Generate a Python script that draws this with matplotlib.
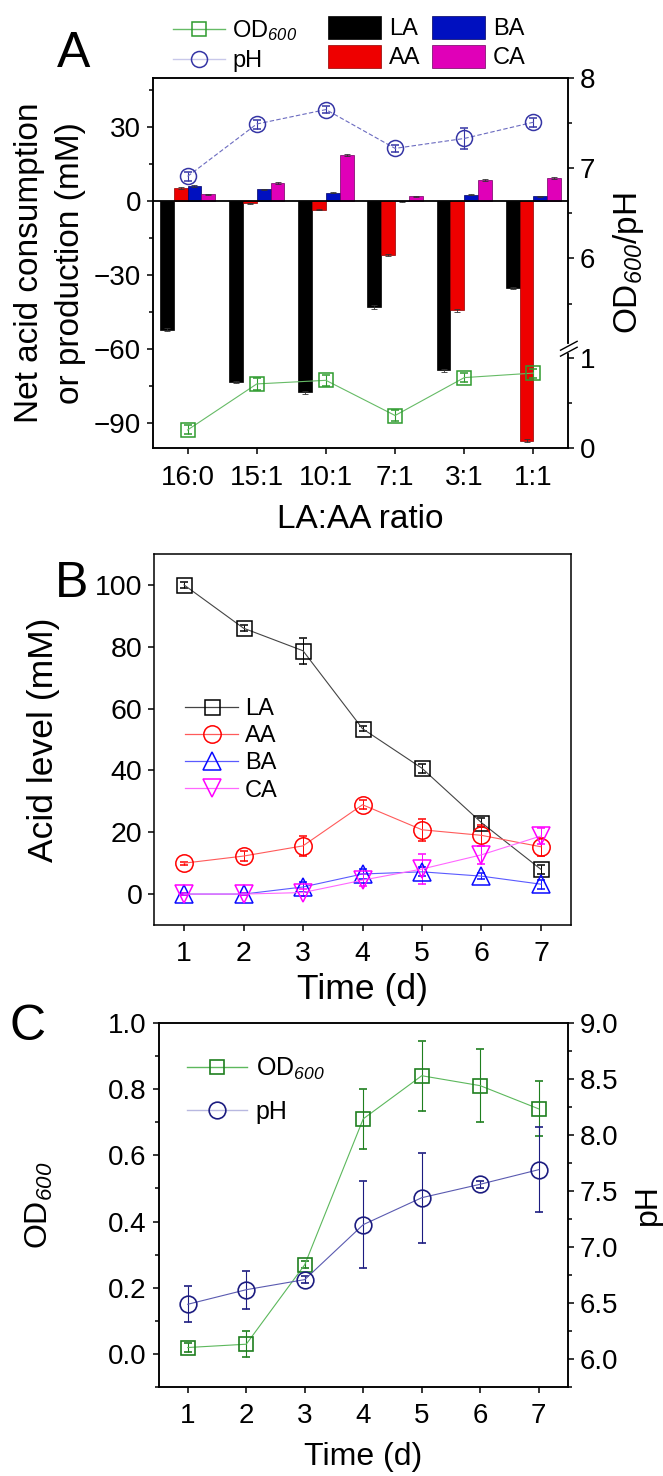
import numpy as np
import matplotlib
matplotlib.use('Agg')
import matplotlib.pyplot as plt
from matplotlib.ticker import MultipleLocator, FixedLocator, FormatStrFormatter, NullFormatter
from matplotlib.patches import Patch
from matplotlib.lines import Line2D

plt.rcParams['font.family'] = ['Liberation Sans', 'DejaVu Sans']
plt.rcParams['mathtext.fontset'] = 'custom'
# math parts are only the italic "600" subscripts
plt.rcParams['mathtext.rm'] = 'Liberation Sans:italic'
plt.rcParams['mathtext.it'] = 'Liberation Sans:italic'
plt.rcParams['axes.linewidth'] = 1.1

# ---------------- Data: panel A ----------------
ratios = ['16:0', '15:1', '10:1', '7:1', '3:1', '1:1']
la_net = [-52.0, -73.3, -77.5, -43.0, -68.4, -35.3]
aa_net = [5.4, -0.8, -3.4, -21.6, -44.2, -97.0]
ba_net = [6.3, 4.8, 3.5, 0.0, 2.7, 2.0]
ca_net = [2.8, 7.5, 18.7, 2.0, 8.7, 9.5]
la_net_err = [0.6, 0.5, 0.5, 0.8, 0.6, 0.4]
aa_net_err = [0.5, 0.3, 0.3, 0.4, 0.5, 0.5]
ba_net_err = [0.5, 0.3, 0.3, 0.2, 0.3, 0.2]
ca_net_err = [0.3, 0.3, 0.3, 0.2, 0.3, 0.3]
od_a = [0.20, 0.71, 0.75, 0.36, 0.78, 0.83]
od_a_err = [0.05, 0.07, 0.06, 0.06, 0.05, 0.05]
ph_a = [6.91, 7.49, 7.65, 7.22, 7.33, 7.51]
ph_a_err = [0.05, 0.05, 0.04, 0.04, 0.12, 0.05]

# ---------------- Data: panel B ----------------
days = [1, 2, 3, 4, 5, 6, 7]
la_b = [100.0, 86.0, 78.7, 53.5, 40.7, 23.1, 8.0]
la_b_err = [1.0, 1.0, 4.2, 0.8, 1.5, 1.5, 1.5]
aa_b = [10.0, 12.3, 15.6, 28.9, 20.8, 19.0, 15.3]
aa_b_err = [0.5, 1.5, 3.3, 1.5, 3.5, 3.5, 3.0]
ba_b = [0.0, 0.0, 2.3, 6.5, 7.2, 5.8, 3.2]
ba_b_err = [0.3, 0.3, 1.5, 1.5, 1.5, 1.0, 1.5]
ca_b = [0.0, 0.0, 0.5, 4.5, 8.1, 12.7, 18.8]
ca_b_err = [0.3, 0.3, 1.0, 2.0, 4.8, 3.0, 2.5]

# ---------------- Data: panel C ----------------
od_c = [0.02, 0.03, 0.27, 0.71, 0.84, 0.81, 0.74]
od_c_err = [0.015, 0.04, 0.01, 0.09, 0.105, 0.11, 0.083]
ph_c = [6.49, 6.62, 6.71, 7.20, 7.44, 7.56, 7.69]
ph_c_err = [0.16, 0.17, 0.03, 0.39, 0.40, 0.03, 0.38]

W, H = 663, 1476
fig = plt.figure(figsize=(W / 100, H / 100), dpi=100)


def fx(px):
    return px / W


def fy(py):
    return 1 - py / H


def rect(l, t, r, b):
    return [l / W, 1 - b / H, (r - l) / W, (b - t) / H]


def style_ticks(ax, size):
    ax.tick_params(which='both', direction='out', width=1.1, labelsize=size)
    ax.tick_params(which='major', length=4.5, pad=4)
    ax.tick_params(which='minor', length=2.8)


OD_LABEL = r'OD$_{600}$'
TICK = 20

# ======================= Panel A =======================
axA = fig.add_axes(rect(153, 78, 568, 448))
x = np.arange(len(ratios))
w = 0.2
bar_series = [
    (la_net, la_net_err, '#000000', '#000000', 'LA'),
    (aa_net, aa_net_err, '#ee0000', '#900000', 'AA'),
    (ba_net, ba_net_err, '#0010c0', '#000060', 'BA'),
    (ca_net, ca_net_err, '#e000b8', '#700060', 'CA'),
]
bar_handles = []
for i, (vals, err, fc, ec, name) in enumerate(bar_series):
    axA.bar(x + (i - 1.5) * w, vals, w, yerr=err, color=fc, edgecolor=ec,
            linewidth=0.5, error_kw=dict(ecolor='#333333', elinewidth=0.6,
                                         capsize=2, capthick=0.6), zorder=2)
    bar_handles.append(Patch(facecolor=fc, edgecolor=ec, linewidth=0.5, label=name))
axA.axhline(0, color='k', lw=1.3, zorder=3)
axA.set_xlim(-0.5, 5.5)
axA.set_ylim(-100, 50)
axA.set_xticks(x)
axA.set_xticklabels(ratios)
axA.yaxis.set_major_locator(MultipleLocator(30))
axA.yaxis.set_minor_locator(MultipleLocator(15))
style_ticks(axA, TICK)
axA.tick_params(axis='x', pad=8)
axA.set_ylabel('Net acid consumption\nor production (mM)', fontsize=24,
               va='center', linespacing=1.4)
axA.yaxis.set_label_coords(-0.248, 0.5)
axA.set_xlabel('LA:AA ratio', fontsize=24, va='center')
axA.xaxis.set_label_coords(0.5, -0.192)


def fwd(v):
    v = np.asarray(v, dtype=float)
    return np.where(v <= 1.1, v, np.where(v >= 5.0, v - 3.9, 1.1))


def inv(d):
    d = np.asarray(d, dtype=float)
    return np.where(d <= 1.1, d, d + 3.9)


axA2 = axA.twinx()
axA2.set_yscale('function', functions=(fwd, inv))
axA2.set_ylim(0, 8)
axA2.yaxis.set_major_locator(FixedLocator([0, 1, 6, 7, 8]))
axA2.yaxis.set_minor_locator(FixedLocator([0.5, 5.5, 6.5, 7.5]))
axA2.yaxis.set_major_formatter(FormatStrFormatter('%g'))
axA2.yaxis.set_minor_formatter(NullFormatter())
style_ticks(axA2, TICK)
axA2.set_ylabel(OD_LABEL + '/pH', fontsize=24, va='center', rotation=90)
axA2.yaxis.set_label_coords(1.145, 0.5)

od_col_a, od_line_a = '#2e9b2e', '#66bb66'
ph_col_a, ph_line_a = '#3535a5', '#6b6bc0'
axA2.errorbar(x, od_a, yerr=od_a_err, fmt='-s', color=od_line_a, mec=od_col_a,
              mfc='none', ms=10.5, mew=1.1, lw=0.8, ecolor=od_col_a,
              elinewidth=0.8, capsize=3, capthick=0.8, zorder=4)
axA2.errorbar(x, ph_a, yerr=ph_a_err, fmt='-o', color=ph_line_a, mec=ph_col_a,
              mfc='none', ms=11.5, mew=1.1, lw=0.8, ls=(0, (4, 2)), ecolor=ph_col_a,
              elinewidth=0.8, capsize=3, capthick=0.8, zorder=4)

# axis break marks on the right axis
yb = float(fwd(1.13) / fwd(8.0))
axA2.plot([1.0, 1.0], [yb - 0.007, yb + 0.007], transform=axA2.transAxes,
          color='white', lw=3, clip_on=False, zorder=10)
for off in (-0.008, 0.008):
    axA2.plot([0.982, 1.022], [yb - 0.012 + off, yb + 0.012 + off],
              transform=axA2.transAxes, color='k', lw=1.0, clip_on=False, zorder=11)

line_handles_a = [
    Line2D([], [], color=od_line_a, marker='s', mec=od_col_a, mfc='none', ms=10.5, mew=1.1, lw=1.0),
    Line2D([], [], color='#c8c8ea', marker='o', mec=ph_col_a, mfc='none', ms=11.5, mew=1.1, lw=1.0),
]
fig.legend(line_handles_a, [OD_LABEL, 'pH'], loc='upper left',
           bbox_to_anchor=(fx(173), fy(18)), frameon=False, fontsize=17,
           handlelength=2.2, handletextpad=0.3, labelspacing=0.3,
           borderpad=0, borderaxespad=0)
fig.legend(bar_handles, [h.get_label() for h in bar_handles], ncol=2,
           loc='upper left', bbox_to_anchor=(fx(328), fy(16)), frameon=False,
           fontsize=17, handlelength=2.25, handleheight=1.1, handletextpad=0.32,
           columnspacing=0.5, labelspacing=0.2, borderpad=0, borderaxespad=0)

fig.text(fx(57), fy(67), 'A', fontsize=36, ha='left', va='baseline')

# ======================= Panel B =======================
axB = fig.add_axes(rect(154.3, 554, 570.7, 925))
b_series = [
    (la_b, la_b_err, 's', '#000000', '#444444', 10.8, 'LA'),
    (aa_b, aa_b_err, 'o', '#ff0000', '#ff5a5a', 12.5, 'AA'),
    (ba_b, ba_b_err, '^', '#0a0aff', '#5a5aff', 12.5, 'BA'),
    (ca_b, ca_b_err, 'v', '#ff00ff', '#ff66ff', 12.5, 'CA'),
]
b_handles = []
for vals, err, mk, mc, lc, ms, name in b_series:
    axB.errorbar(days, vals, yerr=err, fmt='-' + mk, color=lc, mec=mc, mfc='none',
                 ms=ms, mew=1.1, lw=0.8, ecolor=mc, elinewidth=0.7, capsize=3,
                 capthick=0.7)
    b_handles.append(Line2D([], [], color=lc, marker=mk, mec=mc, mfc='none',
                            ms=ms, mew=1.1, lw=0.9, label=name))
axB.set_xlim(0.5, 7.5)
axB.set_ylim(-10, 110)
axB.set_xticks(days)
axB.yaxis.set_major_locator(MultipleLocator(20))
style_ticks(axB, TICK + 0.5)
axB.tick_params(axis='x', pad=7)
axB.set_ylabel('Acid level (mM)', fontsize=25.5, va='center')
axB.yaxis.set_label_coords(-0.265, 0.5)
axB.set_xlabel('Time (d)', fontsize=25.5, va='center')
axB.xaxis.set_label_coords(0.5, -0.175)
axB.legend(handles=b_handles, loc='upper left', bbox_to_anchor=(fx(185), fy(698)),
           bbox_transform=fig.transFigure, frameon=False, fontsize=17,
           handlelength=2.25, handletextpad=0.3, labelspacing=0.22,
           borderpad=0, borderaxespad=0)
fig.text(fx(55), fy(597), 'B', fontsize=36, ha='left', va='baseline')

# ======================= Panel C =======================
axC = fig.add_axes(rect(158.5, 1022.7, 568, 1387.3))
od_col_c, od_line_c = '#1f7f1f', '#5cb85c'
ph_col_c, ph_line_c = '#1c1c80', '#5a5ab0'
axC.errorbar(days, od_c, yerr=od_c_err, fmt='-s', color=od_line_c, mec=od_col_c,
             mfc='none', ms=10.5, mew=1.2, lw=0.8, ecolor=od_col_c, elinewidth=0.8,
             capsize=3, capthick=0.8)
axC.set_xlim(0.5, 7.5)
axC.set_ylim(-0.1, 1.0)
axC.set_xticks(days)
axC.yaxis.set_major_locator(MultipleLocator(0.2))
axC.yaxis.set_minor_locator(MultipleLocator(0.1))
axC.yaxis.set_major_formatter(FormatStrFormatter('%.1f'))
style_ticks(axC, TICK)
axC.tick_params(axis='x', pad=7)
axC.set_ylabel(OD_LABEL, fontsize=23, va='center')
axC.yaxis.set_label_coords(-0.29, 0.5)
axC.set_xlabel('Time (d)', fontsize=23, va='center')
axC.xaxis.set_label_coords(0.5, -0.19)

axC2 = axC.twinx()
axC2.errorbar(days, ph_c, yerr=ph_c_err, fmt='-o', color=ph_line_c, mec=ph_col_c,
              mfc='none', ms=12, mew=1.2, lw=0.8, ecolor=ph_col_c, elinewidth=0.8,
              capsize=3, capthick=0.8)
axC2.set_ylim(5.75, 9.0)
axC2.yaxis.set_major_locator(MultipleLocator(0.5))
axC2.yaxis.set_minor_locator(MultipleLocator(0.25))
axC2.yaxis.set_major_formatter(FormatStrFormatter('%.1f'))
style_ticks(axC2, TICK)
axC2.set_ylabel('pH', fontsize=23, va='center', rotation=90)
axC2.yaxis.set_label_coords(1.195, 0.5)

c_handles = [
    Line2D([], [], color=od_line_c, marker='s', mec=od_col_c, mfc='none', ms=10.5, mew=1.2, lw=1.0),
    Line2D([], [], color='#b8b8e0', marker='o', mec=ph_col_c, mfc='none', ms=12, mew=1.2, lw=1.0),
]
axC2.legend(c_handles, [OD_LABEL, 'pH'], loc='upper left',
            bbox_to_anchor=(fx(187), fy(1056)), bbox_transform=fig.transFigure,
            frameon=False, fontsize=18, handlelength=2.4, handletextpad=0.35,
            labelspacing=0.7, borderpad=0, borderaxespad=0)
fig.text(fx(9), fy(1040), 'C', fontsize=36, ha='left', va='baseline')

fig.savefig('out.png', dpi=100)
